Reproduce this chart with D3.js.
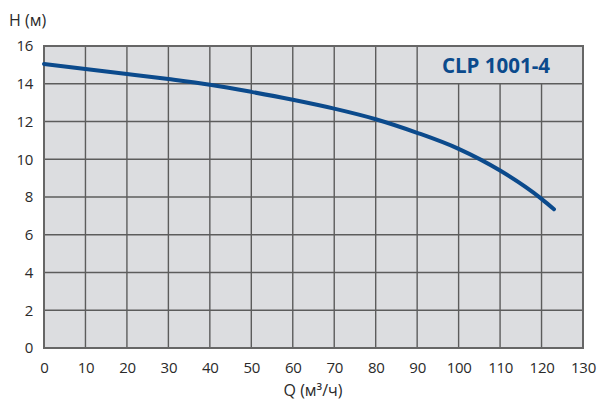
<!DOCTYPE html>
<html>
<head>
<meta charset="utf-8">
<script src="https://cdn.jsdelivr.net/npm/d3@7"></script>
<style>
  html, body { margin: 0; padding: 0; background: #fff; }
  svg { display: block; }
  text { font-family: "Open Sans", "Noto Sans", sans-serif; }
</style>
</head>
<body>
<svg id="chart" width="604" height="403"></svg>
<script>
// ---- data ----
const flowQ = [0, 10, 20, 30, 40, 50, 60, 70, 80, 90, 100, 110, 120, 123];
const headH = [15.05, 14.78, 14.52, 14.25, 13.95, 13.57, 13.15, 12.68, 12.12, 11.4, 10.55, 9.4, 7.9, 7.35];
const xTicks = [0, 10, 20, 30, 40, 50, 60, 70, 80, 90, 100, 110, 120, 130];
const yTicks = [0, 2, 4, 6, 8, 10, 12, 14, 16];
const modelName = "CLP 1001-4";
const yTitle = "H (м)";
const xTitle = "Q (м³/ч)";

// ---- layout ----
const svg = d3.select("#chart");
const x = d3.scaleLinear().domain([0, 130]).range([44, 583]);
const y = d3.scaleLinear().domain([0, 16]).range([348, 46]);

const gridColor = "#5c5c5c";
const textColor = "#2a2a2a";
const blue = "#0b4a8c";

// background
svg.append("rect")
  .attr("x", x(0)).attr("y", y(16))
  .attr("width", x(130) - x(0)).attr("height", y(0) - y(16))
  .attr("fill", "#dcdde0");

// grid
const grid = svg.append("g").attr("stroke", gridColor).attr("stroke-width", 1.4);
xTicks.filter(d => d > 0 && d < 130).forEach(d => {
  const top = d > 90 ? y(14) : y(16);
  grid.append("line")
    .attr("x1", x(d)).attr("x2", x(d))
    .attr("y1", top).attr("y2", y(0));
});
yTicks.filter(d => d > 0 && d < 16).forEach(d => {
  grid.append("line")
    .attr("x1", x(0)).attr("x2", x(130))
    .attr("y1", y(d)).attr("y2", y(d));
});

// border
svg.append("rect")
  .attr("x", x(0)).attr("y", y(16))
  .attr("width", x(130) - x(0)).attr("height", y(0) - y(16))
  .attr("fill", "none").attr("stroke", "#666").attr("stroke-width", 2);

// model label
svg.append("text")
  .attr("x", x(109)).attr("y", (y(14) + y(16)) / 2)
  .attr("text-anchor", "middle").attr("dominant-baseline", "central")
  .attr("font-size", 20.5).attr("font-weight", "bold")
  .attr("fill", blue)
  .text(modelName);

// curve
const pts = flowQ.map((q, i) => [q, headH[i]]);
svg.append("path")
  .datum(pts)
  .attr("fill", "none")
  .attr("stroke", blue)
  .attr("stroke-width", 4)
  .attr("stroke-linecap", "round")
  .attr("d", d3.line().x(d => x(d[0])).y(d => y(d[1])).curve(d3.curveMonotoneX));

// axes labels
const xAxis = d3.axisBottom(x).tickValues(xTicks).tickSize(0).tickPadding(0).tickFormat(d3.format("d"));
const gx = svg.append("g").attr("transform", `translate(0, 362)`).call(xAxis);
gx.select(".domain").remove();
gx.selectAll("text").attr("font-size", 15).attr("fill", textColor)
  .attr("letter-spacing", "-0.3px")
  .attr("font-family", "'Open Sans', sans-serif").attr("dy", "0.71em").attr("y", 0);

const yAxis = d3.axisLeft(y).tickValues(yTicks).tickSize(0).tickPadding(0).tickFormat(d3.format("d"));
const gy = svg.append("g").attr("transform", `translate(33, 0)`).call(yAxis);
gy.select(".domain").remove();
gy.selectAll("text").attr("font-size", 15).attr("fill", textColor)
  .attr("letter-spacing", "-0.3px")
  .attr("font-family", "'Open Sans', sans-serif").attr("x", 0);

// titles
svg.append("text")
  .attr("x", 9).attr("y", 26)
  .attr("font-size", 16).attr("fill", textColor)
  .text(yTitle);
svg.append("text")
  .attr("x", 313).attr("y", 396)
  .attr("text-anchor", "middle")
  .attr("font-size", 16).attr("fill", textColor)
  .text(xTitle);
</script>
</body>
</html>
